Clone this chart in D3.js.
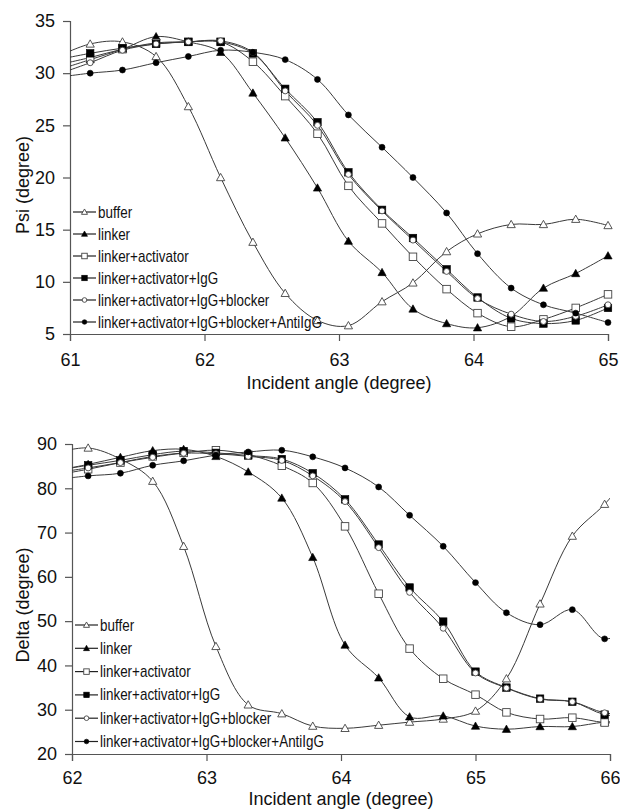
<!DOCTYPE html>
<html><head><meta charset="utf-8">
<script src="https://cdn.jsdelivr.net/npm/d3@7/dist/d3.min.js"></script>
<style>body{margin:0;background:#fff}svg{display:block}text{font-family:"Liberation Sans",Arial,sans-serif;fill:#111}</style>
</head><body><svg id="c" width="620" height="812"></svg>
<script>
// ---------- data ----------
const seriesNames = ["buffer","linker","linker+activator","linker+activator+IgG","linker+activator+IgG+blocker","linker+activator+IgG+blocker+AntiIgG"];
const seriesMarkers = ["triangleOpen","triangle","squareOpen","square","circleOpen","circle"];

const psiAngle = [60.91,61.15,61.39,61.64,61.88,62.12,62.36,62.60,62.84,63.07,63.32,63.55,63.80,64.03,64.28,64.52,64.76,65.00];
const psiBuffer    = [31.6,32.8,33.0,31.6,26.8,20.0,13.8,8.9,6.3,5.8,8.1,9.9,12.9,14.6,15.5,15.5,16.0,15.4];
const psiLinker    = [30.3,31.3,32.3,33.5,33.0,32.0,28.1,23.8,19.0,13.9,10.9,7.4,6.0,5.6,6.7,9.4,10.8,12.5];
const psiActivator = [30.8,31.5,32.3,32.9,33.0,33.0,31.1,27.8,24.2,19.2,15.6,12.4,9.3,7.0,5.7,6.4,7.5,8.8];
const psiIgG       = [31.3,31.9,32.4,32.8,33.0,33.0,31.9,28.5,25.3,20.5,16.9,14.2,11.2,8.5,6.5,6.0,6.3,7.5];
const psiBlocker   = [29.9,31.0,32.2,32.8,33.0,33.1,32.0,28.3,25.0,20.3,16.8,14.0,11.0,8.4,6.9,6.2,6.7,7.8];
const psiAnti      = [29.6,30.0,30.3,31.0,31.6,32.2,32.0,31.3,29.4,26.0,22.9,20.0,16.6,12.7,9.4,7.8,7.0,6.1];

const deltaAngle = [61.88,62.12,62.36,62.60,62.83,63.07,63.31,63.56,63.79,64.03,64.28,64.51,64.76,65.00,65.23,65.48,65.72,65.96,66.20];
const deltaBuffer    = [88.0,89.1,86.6,81.6,66.9,44.3,31.1,29.1,26.3,25.8,26.5,27.2,27.9,29.7,37.0,53.9,69.2,76.4,85.0];
const deltaLinker    = [84.0,85.4,87.0,88.5,88.8,87.2,83.7,77.8,64.4,44.6,37.2,28.4,28.6,26.3,25.6,26.2,26.2,27.2,27.5];
const deltaActivator = [83.0,84.3,85.8,87.2,88.0,88.6,87.6,85.1,81.2,71.4,56.2,43.8,37.0,33.4,29.4,27.9,28.2,27.1,27.0];
const deltaIgG       = [84.0,85.2,86.3,87.6,88.4,88.0,87.4,86.6,83.4,77.5,67.3,57.6,49.9,38.6,35.0,32.5,31.8,28.9,28.5];
const deltaBlocker   = [83.5,84.6,85.8,87.0,87.9,87.8,87.2,86.3,82.8,77.0,66.6,56.5,48.4,38.3,34.9,32.4,31.8,29.3,29.0];
const deltaAnti      = [82.0,82.8,83.4,85.2,86.2,87.5,88.2,88.6,87.1,84.6,80.3,73.9,66.9,58.7,51.9,49.2,52.6,46.0,49.5];

const psiXTicks = [61,62,63,64,65];
const psiYTicks = [5,10,15,20,25,30,35];
const deltaXTicks = [62,63,64,65,66];
const deltaYTicks = [20,30,40,50,60,70,80,90];

// ---------- drawing ----------
const svg = d3.select("#c");

function marker(g, type, x, y, s) {
  const h = s/2;
  let el;
  if (type.startsWith("triangle")) {
    el = g.append("path").attr("d", `M${x},${y-h*1.1}L${x+h*1.1},${y+h*0.85}L${x-h*1.1},${y+h*0.85}Z`);
  } else if (type.startsWith("square")) {
    el = g.append("rect").attr("x", x-h).attr("y", y-h).attr("width", s).attr("height", s);
  } else {
    el = g.append("circle").attr("cx", x).attr("cy", y).attr("r", h*0.85);
  }
  const open = type.endsWith("Open");
  el.attr("fill", open ? "#fff" : "#000").attr("stroke", open ? "#444" : "#000").attr("stroke-width", open ? 0.9 : 0.6);
}

function chart(cfg) {
  const x = d3.scaleLinear().domain(cfg.xDomain).range([cfg.left, cfg.right]);
  const y = d3.scaleLinear().domain(cfg.yDomain).range([cfg.bottom, cfg.top]);
  const g = svg.append("g");
  const clipId = "clip" + cfg.id;
  svg.append("clipPath").attr("id", clipId).append("rect")
    .attr("x", cfg.left).attr("y", cfg.top - 10).attr("width", cfg.right - cfg.left).attr("height", cfg.bottom - cfg.top + 10);

  // axes
  const ax = g.append("g").attr("transform", `translate(0,${cfg.bottom})`)
    .call(d3.axisBottom(x).tickValues(cfg.xTicks).tickSize(7).tickPadding(cfg.xTickPad).tickFormat(d3.format("d")));
  const ay = g.append("g").attr("transform", `translate(${cfg.left},0)`)
    .call(d3.axisLeft(y).tickValues(cfg.yTicks).tickSize(7).tickPadding(8).tickFormat(d3.format("d")));
  [ax, ay].forEach(a => {
    a.select(".domain").attr("stroke", "#555").attr("stroke-width", 1.2);
    a.selectAll(".tick line").attr("stroke", "#555").attr("stroke-width", 1.2);
    a.selectAll("text").attr("font-size", 18).attr("fill", "#111").style("font-family", '"Liberation Sans",Arial,sans-serif');
  });
  // titles
  g.append("text").attr("x", (cfg.left + cfg.right) / 2).attr("y", cfg.bottom + cfg.xTitleOffset)
    .attr("text-anchor", "middle").attr("font-size", 18).text("Incident angle (degree)");
  g.append("text").attr("transform", `translate(29,${cfg.yTitleY}) rotate(-90)`)
    .attr("text-anchor", "middle").attr("font-size", 18).text(cfg.yTitle);

  // lines
  const line = d3.line().x(d => x(d[0])).y(d => y(d[1])).curve(d3.curveCatmullRom.alpha(0.5));
  const lines = g.append("g").attr("clip-path", `url(#${clipId})`);
  cfg.series.forEach(vals => {
    const pts = cfg.angles.map((a, i) => [a, vals[i]]);
    lines.append("path").attr("d", line(pts)).attr("fill", "none").attr("stroke", "#3a3a3a").attr("stroke-width", 1);
  });
  // markers
  const mk = g.append("g");
  cfg.series.forEach((vals, si) => {
    cfg.angles.forEach((a, i) => {
      if (a < cfg.xDomain[0] || a > cfg.xDomain[1] + 1e-9) return;
      marker(mk, seriesMarkers[si], x(a), y(vals[i]), si === 4 || si === 5 ? 7 : 7.5);
    });
  });
  // legend
  const lg = g.append("g");
  seriesNames.forEach((name, i) => {
    const yy = cfg.legendY + i * cfg.legendStep;
    lg.append("line").attr("x1", cfg.left + 3).attr("x2", cfg.left + 26).attr("y1", yy).attr("y2", yy)
      .attr("stroke", "#222").attr("stroke-width", 1.2);
    marker(lg, seriesMarkers[i], cfg.left + 14.5, yy, 5.5);
    lg.append("text").attr("transform", `translate(${cfg.left + 28},${yy + 5.5}) scale(0.84,1)`)
      .attr("font-size", 16).text(name);
  });
}

chart({id: 1, xDomain: [61, 65], yDomain: [5, 35], left: 70, right: 608, top: 21, bottom: 334,
  xTicks: psiXTicks, yTicks: psiYTicks, angles: psiAngle, yTitle: "Psi (degree)", yTitleY: 185,
  xTickPad: 12, xTitleOffset: 55,
  series: [psiBuffer, psiLinker, psiActivator, psiIgG, psiBlocker, psiAnti],
  legendY: 212, legendStep: 22});

chart({id: 2, xDomain: [62, 66], yDomain: [20, 90], left: 72, right: 610, top: 444, bottom: 754,
  xTicks: deltaXTicks, yTicks: deltaYTicks, angles: deltaAngle, yTitle: "Delta (degree)", yTitleY: 605,
  xTickPad: 10, xTitleOffset: 51,
  series: [deltaBuffer, deltaLinker, deltaActivator, deltaIgG, deltaBlocker, deltaAnti],
  legendY: 625, legendStep: 23.3});
</script></body></html>
